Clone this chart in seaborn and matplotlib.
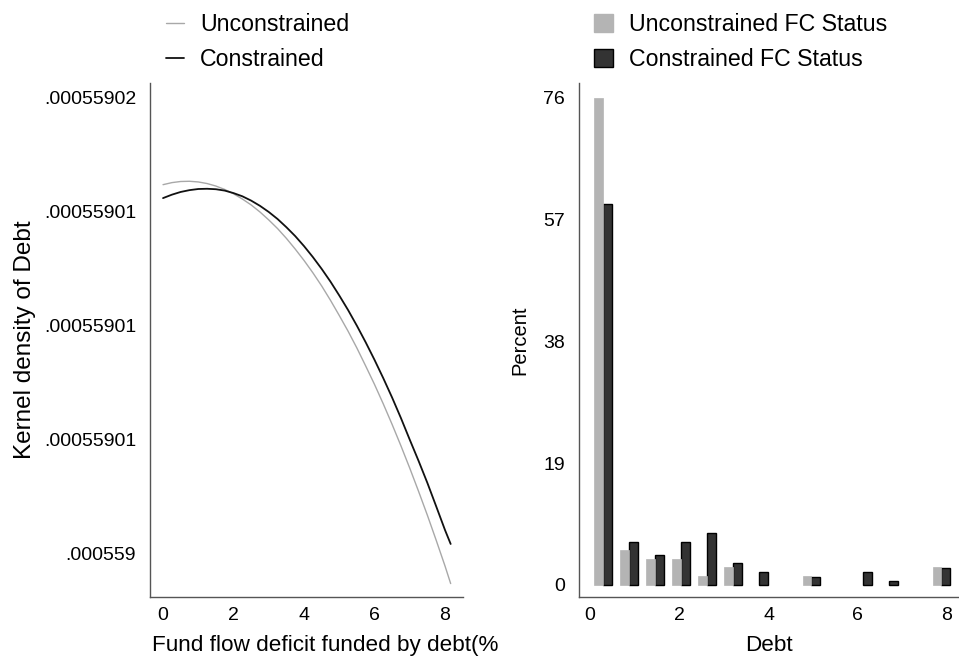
import pandas as pd
import matplotlib
matplotlib.use("Agg")
import matplotlib.pyplot as plt
import seaborn as sns
from matplotlib.lines import Line2D
from matplotlib.patches import Patch

# ---- data ----
# kernel density of Debt on the debt grid (left panel)
debt_grid = [0, 0.25, 0.5, 0.75, 1, 1.25, 1.5, 1.75, 2, 2.25, 2.5, 2.75, 3, 3.25,
             3.5, 3.75, 4, 4.25, 4.5, 4.75, 5, 5.25, 5.5, 5.75, 6, 6.25, 6.5, 6.75,
             7, 7.25, 7.5, 7.75, 8, 8.16]
# values given as 1e-9 above .000559
dens_unconstrained_nano = [16.19, 16.28, 16.33, 16.34, 16.31, 16.24, 16.13, 15.98, 15.79,
                           15.56, 15.30, 14.99, 14.64, 14.26, 13.83, 13.36, 12.86, 12.32,
                           11.74, 11.11, 10.44, 9.75, 9.01, 8.22, 7.41, 6.55, 5.65, 4.71,
                           3.73, 2.71, 1.66, 0.56, -0.57, -1.34]
dens_constrained_nano = [15.60, 15.75, 15.87, 15.95, 16.00, 16.01, 15.99, 15.93, 15.82,
                         15.68, 15.49, 15.26, 14.99, 14.68, 14.32, 13.93, 13.49, 13.01,
                         12.49, 11.93, 11.32, 10.68, 9.99, 9.26, 8.49, 7.68, 6.83, 5.93,
                         4.98, 4.05, 3.08, 2.05, 1.01, 0.40]
dens_base = 0.000559
kd_ticks = [0.000559, 0.000559005, 0.00055901, 0.000559015, 0.00055902]
kd_tick_labels = [".000559", ".00055901", ".00055901", ".00055901", ".00055902"]

# histogram of Debt by FC status (right panel), percent per bin
bin_centers = [0.29, 0.87, 1.46, 2.04, 2.62, 3.21, 3.79, 4.37, 4.96, 5.54, 6.12, 6.71, 7.29, 7.87]
pct_unconstrained = [75.9, 5.5, 4.1, 4.1, 1.4, 2.8, 0, 0, 1.4, 0, 0, 0, 0, 2.8]
pct_constrained = [59.4, 6.7, 4.7, 6.7, 8.1, 3.4, 2.0, 0, 1.3, 0, 2.0, 0.6, 0, 2.6]
pct_ticks = [0, 19, 38, 57, 76]
status_labels = ["Unconstrained FC Status", "Constrained FC Status"]

LIGHT = "#b4b4b4"
DARK = "#333333"
SPINE = "#555555"

sns.set_style("white")
plt.rcParams["font.family"] = ["Liberation Sans", "DejaVu Sans"]
plt.rcParams.update({"text.color": "black", "axes.labelcolor": "black",
                     "xtick.color": "black", "ytick.color": "black"})

fig = plt.figure(figsize=(9.59, 6.59), dpi=100)
ax1 = fig.add_axes([0.1564, 0.0941, 0.3264, 0.78])
ax2 = fig.add_axes([0.6038, 0.0941, 0.3962, 0.78])

# ---- left: kernel densities ----
kd = pd.DataFrame({
    "x": debt_grid * 2,
    "y": [dens_base + v * 1e-9 for v in dens_unconstrained_nano + dens_constrained_nano],
    "group": ["Unconstrained"] * len(debt_grid) + ["Constrained"] * len(debt_grid),
})
sns.lineplot(data=kd, x="x", y="y", hue="group", ax=ax1,
             palette={"Unconstrained": "#a8a8a8", "Constrained": "#111111"},
             legend=False, sort=False)
for ln, lw in zip(ax1.lines, [1.0, 1.3]):
    ln.set_linewidth(lw)

ax1.set_xlim(-0.37, 8.51)
ax1.set_ylim(dens_base - 1.93e-9, dens_base + 20.66e-9)
ax1.set_xticks([0, 2, 4, 6, 8])
ax1.set_yticks(kd_ticks, labels=kd_tick_labels)
ax1.set_xlabel("Fund flow deficit funded by debt(%", fontsize=16.2, labelpad=8)
ax1.xaxis.label.set_x(0.56)
ax1.set_ylabel("Kernel density of Debt", fontsize=17.5, labelpad=6)

# ---- right: dodged histogram ----
hist = pd.DataFrame({
    "debt": bin_centers * 2,
    "pct": pct_unconstrained + pct_constrained,
    "status": [status_labels[0]] * len(bin_centers) + [status_labels[1]] * len(bin_centers),
})
sns.histplot(data=hist, x="debt", weights="pct", hue="status", hue_order=status_labels,
             binwidth=8.16 / 14, binrange=(0, 8.16), multiple="dodge", shrink=0.66,
             ax=ax2, alpha=1,
             palette={status_labels[0]: LIGHT, status_labels[1]: DARK},
             legend=False, linewidth=0)
for p in ax2.patches:
    if p.get_height() <= 0:
        p.set_visible(False)
    elif p.get_facecolor()[0] < 0.5:
        p.set_edgecolor("black")
        p.set_linewidth(1.0)
    else:
        p.set_edgecolor(LIGHT)
        p.set_linewidth(0.5)

ax2.set_xlim(-0.247, 8.27)
ax2.set_ylim(-1.87, 78.3)
ax2.set_xticks([0, 2, 4, 6, 8])
ax2.set_yticks(pct_ticks)
ax2.set_xlabel("Debt", fontsize=16.2, labelpad=8)
ax2.set_ylabel("Percent", fontsize=14.5, labelpad=10)

for ax in (ax1, ax2):
    sns.despine(ax=ax)
    for s in ("left", "bottom"):
        ax.spines[s].set_color(SPINE)
        ax.spines[s].set_linewidth(1.0)
    ax.tick_params(axis="both", length=0, labelsize=14)
    ax.tick_params(axis="x", pad=7)
    ax.tick_params(axis="y", pad=10)

# ---- legends above the panels ----
kd_handles = [Line2D([], [], color="#a8a8a8", lw=1.0), Line2D([], [], color="#111111", lw=1.3)]
fig.legend(kd_handles, ["Unconstrained", "Constrained"], loc="upper left",
           bbox_to_anchor=(0.173, 0.980), frameon=False, fontsize=16.7,
           handlelength=0.78, handletextpad=0.7, labelspacing=0.5,
           borderpad=0, borderaxespad=0)

hist_handles = [Patch(facecolor=LIGHT, edgecolor=LIGHT), Patch(facecolor=DARK, edgecolor="black")]
fig.legend(hist_handles, status_labels, loc="upper left",
           bbox_to_anchor=(0.619, 0.980), frameon=False, fontsize=16.7,
           handlelength=0.82, handleheight=0.82, handletextpad=0.7, labelspacing=0.5,
           borderpad=0, borderaxespad=0)

fig.savefig("out.png", dpi=100)
